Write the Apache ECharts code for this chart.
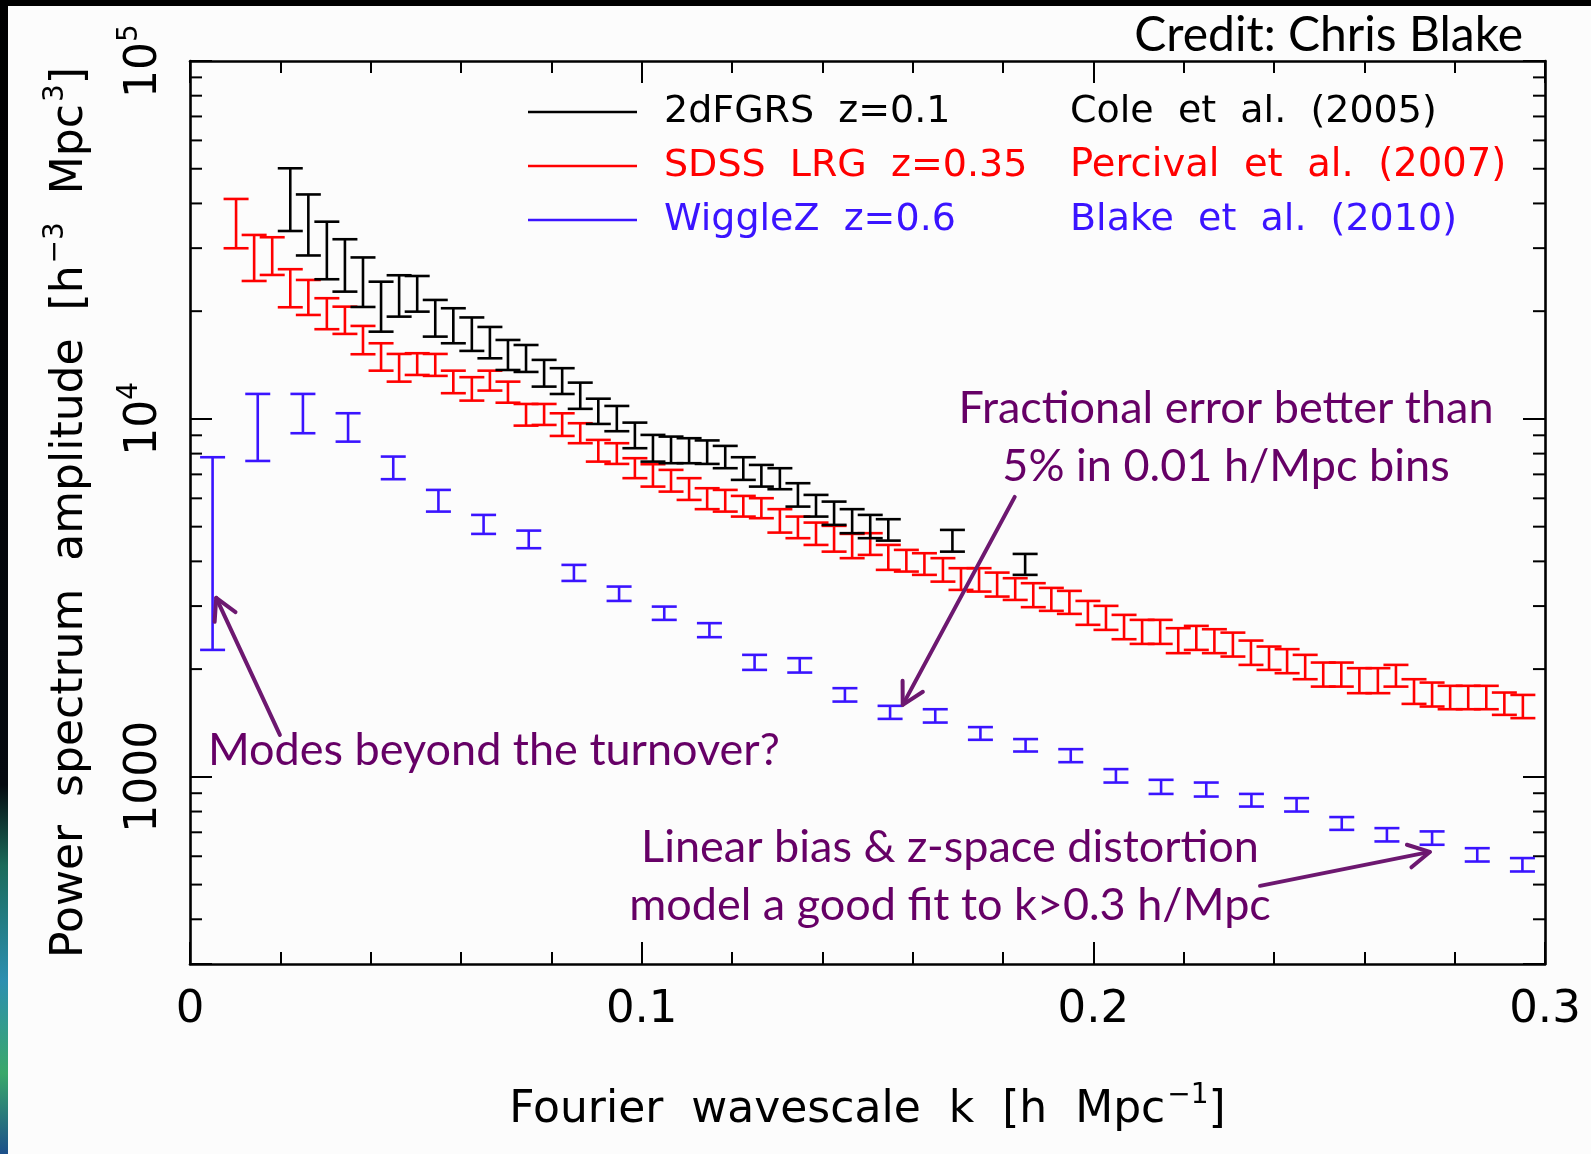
<!DOCTYPE html>
<html><head><meta charset="utf-8">
<script src="https://cdn.jsdelivr.net/npm/echarts@6/dist/echarts.min.js"></script>
<style>html,body{margin:0;padding:0;background:#fcfcfc}#c{width:1591px;height:1154px}</style>
</head><body><div id="c"></div><script>
// ---- data (k in h/Mpc, P in h^-3 Mpc^3; error bars as low/high) ----
const kRed = [0.0102,0.0142,0.0182,0.0222,0.0262,0.0303,0.0343,0.0383,0.0423,0.0463,0.0503,0.0543,0.0583,0.0624,0.0664,0.0704,0.0744,0.0784,0.0824,0.0864,0.0904,0.0945,0.0985,0.1025,0.1065,0.1105,0.1145,0.1185,0.1225,0.1265,0.1306,0.1346,0.1386,0.1426,0.1466,0.1506,0.1546,0.1586,0.1626,0.1667,0.1707,0.1747,0.1787,0.1827,0.1867,0.1907,0.1947,0.1988,0.2028,0.2068,0.2108,0.2148,0.2188,0.2228,0.2268,0.2309,0.2349,0.2389,0.2429,0.2469,0.2509,0.2549,0.2589,0.2630,0.2670,0.2710,0.2750,0.2790,0.2830,0.2870,0.2910,0.2951];
const redLo = [29980,24290,25250,20510,19520,17810,17280,15160,13640,12710,13270,13190,11800,11250,12000,11100,9578,9621,8964,8554,7598,7487,6831,6470,6265,5939,5596,5509,5335,5280,4813,4643,4446,4258,4083,4170,3787,3746,3667,3511,3329,3293,3189,3121,2979,2909,2853,2659,2574,2424,2352,2352,2216,2263,2216,2168,2055,1990,1948,1874,1787,1787,1713,1713,1787,1599,1572,1545,1545,1545,1490,1459];
const redHi = [41170,32660,32180,26200,24450,21740,20590,18190,16270,15190,15260,15190,13640,13080,13640,12710,11010,11010,10370,9727,8737,8554,7767,7472,7205,6831,6403,6334,6094,6005,5596,5335,5133,5026,4773,4795,4446,4306,4215,4083,3828,3828,3721,3589,3476,3372,3308,3101,3004,2835,2745,2745,2602,2641,2585,2529,2403,2312,2274,2192,2086,2086,2012,2012,2055,1874,1834,1796,1796,1796,1720,1694];

const kBlack = [0.0222,0.0262,0.0303,0.0343,0.0383,0.0423,0.0463,0.0503,0.0543,0.0583,0.0624,0.0664,0.0704,0.0744,0.0784,0.0824,0.0864,0.0904,0.0945,0.0985,0.1025,0.1065,0.1105,0.1145,0.1185,0.1225,0.1265,0.1306,0.1346,0.1386,0.1426,0.1466,0.1506,0.1546,0.1688,0.1849];
const blackLo = [33500,28620,24560,22680,20550,17530,19310,19940,16980,16270,15490,14770,13700,13530,12310,11740,10670,9683,9240,8283,7598,7521,7521,7487,7283,6756,6470,6362,5689,5335,5058,4795,4643,4571,4258,3667];
const blackHi = [50150,42380,35570,31770,28260,24180,25200,25080,21500,20380,19210,18070,16620,16090,14620,13860,12630,11390,10870,9765,9023,8925,8833,8708,8407,7816,7438,7283,6613,6134,5875,5596,5393,5246,4897,4196];

const kBlue = [0.005,0.015,0.025,0.035,0.045,0.055,0.065,0.075,0.085,0.095,0.105,0.115,0.125,0.135,0.145,0.155,0.165,0.175,0.185,0.195,0.205,0.215,0.225,0.235,0.245,0.255,0.265,0.275,0.285,0.295];
const blueLo = [2263,7631,9121,8641,6786,5509,4773,4353,3527,3101,2745,2456,1990,1956,1623,1452,1418,1269,1177,1099,964,896,881,826,800,711,660,646,580,544];
const blueHi = [7816,11745,11745,10373,7849,6334,5393,4875,3910,3401,2990,2688,2192,2146,1769,1579,1545,1377,1275,1195,1051,981,964,896,872,772,719,704,632,593];

const xTicks = [0, 0.1, 0.2, 0.3];
const yTickLabels = {1000: '1000', 10000: '10{s|4}', 100000: '10{s|5}'};
const yMinorTicks = [400,500,600,700,800,900,2000,3000,4000,5000,6000,7000,8000,9000,20000,30000,40000,50000,60000,70000,80000,90000];

const seriesNames = ['2dFGRS  z=0.1', 'SDSS  LRG  z=0.35', 'WiggleZ  z=0.6'];
const seriesRefs = ['Cole  et  al.  (2005)', 'Percival  et  al.  (2007)', 'Blake  et  al.  (2010)'];
// annotation arrows: [kTail, PTail, kHead, PHead]
const arrows = [[0.1826, 6055, 0.1578, 1589], [0.0199, 1310, 0.0058, 3162], [0.2369, 496, 0.2745, 617]];

// ---- styling ----
const C_BLACK = '#000000', C_RED = '#ff0000', C_BLUE = '#3a14ff', C_PURPLE = '#660066', C_ARROW = '#6d1870';
const PG = '"DejaVu Sans", sans-serif';
const CAL = 'Lato, "Open Sans", sans-serif';

function errorBarSeries(name, ks, lo, hi, color, half) {
  return {
    type: 'custom', name: name, clip: false,
    data: ks.map((k, i) => [k, lo[i], hi[i]]),
    encode: {x: 0, y: [1, 2]},
    renderItem: function (params, api) {
      const k = api.value(0);
      const a = api.coord([k, api.value(2)]);
      const b = api.coord([k, api.value(1)]);
      const st = {stroke: color, lineWidth: 2.6, fill: null};
      return {type: 'group', children: [
        {type: 'line', shape: {x1: a[0], y1: a[1], x2: b[0], y2: b[1]}, style: st},
        {type: 'line', shape: {x1: a[0] - half, y1: a[1], x2: a[0] + half, y2: a[1]}, style: st},
        {type: 'line', shape: {x1: b[0] - half, y1: b[1], x2: b[0] + half, y2: b[1]}, style: st}
      ]};
    }
  };
}

const axisLineStyle = {color: '#000', width: 2.6};
const tickStyle = {color: '#000', width: 2};
const subRich = {s: {fontSize: 28, verticalAlign: 'top', lineHeight: 28, padding: [0, 0, 0, 2]}};

const option = {
  animation: false,
  backgroundColor: '#fcfcfc',
  grid: {left: 190, right: 46, top: 61, bottom: 190, show: false},
  xAxis: [
    {type: 'value', position: 'bottom', min: 0, max: 0.3, interval: 0.1,
     axisLine: {show: true, onZero: false, lineStyle: axisLineStyle},
     axisTick: {show: true, inside: true, length: 22, lineStyle: tickStyle},
     minorTick: {show: true, splitNumber: 5, length: 12, lineStyle: tickStyle},
     splitLine: {show: false},
     axisLabel: {color: '#000', fontSize: 45, fontFamily: PG, margin: 24,
       formatter: v => { const t = xTicks.find(x => Math.abs(x - v) < 1e-9); return t === undefined ? '' : String(t); }},
     name: 'Fourier  wavescale  k  [h  Mpc{s|−1}]', nameLocation: 'middle', nameGap: 118,
     nameTextStyle: {color: '#000', fontSize: 44, fontFamily: PG, lineHeight: 58, rich: subRich}},
    {type: 'value', position: 'top', min: 0, max: 0.3, interval: 0.1,
     axisLine: {show: true, onZero: false, lineStyle: axisLineStyle},
     axisTick: {show: true, inside: true, length: 22, lineStyle: tickStyle},
     minorTick: {show: true, splitNumber: 5, length: 12, lineStyle: tickStyle},
     splitLine: {show: false}, axisLabel: {show: false}}
  ],
  yAxis: [
    {type: 'log', logBase: 10, position: 'left', min: 300, max: 100000,
     axisLine: {show: true, onZero: false, lineStyle: axisLineStyle},
     axisTick: {show: true, inside: true, length: 22, lineStyle: tickStyle},
     splitLine: {show: false},
     axisLabel: {color: '#000', fontSize: 44, fontFamily: PG, rotate: 90, margin: 16, lineHeight: 58,
       showMinLabel: true,
       formatter: v => { const r = Math.round(v); return yTickLabels[r] || ''; },
       rich: {s: {fontSize: 28, verticalAlign: 'top', lineHeight: 28}}},
     name: 'Power  spectrum  amplitude  [h{s|−3}  Mpc{s|3}]', nameLocation: 'middle', nameRotate: 90, nameGap: 90,
     nameTextStyle: {color: '#000', fontSize: 44, fontFamily: PG, lineHeight: 58, rich: subRich}},
    {type: 'log', logBase: 10, position: 'right', min: 300, max: 100000,
     axisLine: {show: true, onZero: false, lineStyle: axisLineStyle},
     axisTick: {show: true, inside: true, length: 22, lineStyle: tickStyle},
     splitLine: {show: false}, axisLabel: {show: false}}
  ],
  series: [
    {type: 'custom', name: 'yMinorTicks', clip: false, silent: true,
     data: yMinorTicks.map(v => [0, v]), encode: {x: 0, y: 1},
     renderItem: function (params, api) {
       const v = api.value(1);
       const l = api.coord([0, v]);
       const r = api.coord([0.3, v]);
       const st = {stroke: '#000', lineWidth: 2};
       return {type: 'group', children: [
         {type: 'line', shape: {x1: l[0], y1: l[1], x2: l[0] + 12, y2: l[1]}, style: st},
         {type: 'line', shape: {x1: r[0] - 12, y1: r[1], x2: r[0], y2: r[1]}, style: st}
       ]};
     }},
    errorBarSeries(seriesNames[2], kBlue, blueLo, blueHi, C_BLUE, 12.5),
    errorBarSeries(seriesNames[1], kRed, redLo, redHi, C_RED, 12.5),
    errorBarSeries(seriesNames[0], kBlack, blackLo, blackHi, C_BLACK, 12.5),
    {type: 'custom', name: 'arrows', clip: false, silent: true,
     data: arrows, encode: {x: [0, 2], y: [1, 3]},
     renderItem: function (params, api) {
       const a = api.coord([api.value(0), api.value(1)]);
       const b = api.coord([api.value(2), api.value(3)]);
       const ang = Math.atan2(b[1] - a[1], b[0] - a[0]);
       const L = 24, w = 0.5;
       const p1 = [b[0] - L * Math.cos(ang - w), b[1] - L * Math.sin(ang - w)];
       const p2 = [b[0] - L * Math.cos(ang + w), b[1] - L * Math.sin(ang + w)];
       const st = {stroke: C_ARROW, lineWidth: 4, fill: null, lineCap: 'round', lineJoin: 'round'};
       return {type: 'group', children: [
         {type: 'line', shape: {x1: a[0], y1: a[1], x2: b[0], y2: b[1]}, style: st},
         {type: 'polyline', shape: {points: [p1, b, p2]}, style: st}
       ]};
     }}
  ],
  graphic: [
    {type: 'rect', left: 0, top: 0, shape: {width: 1591, height: 6}, style: {fill: '#000'}, z: 100},
    {type: 'rect', left: 0, top: 0, shape: {width: 8, height: 1154}, z: 100,
     style: {fill: new echarts.graphic.LinearGradient(0, 0, 0, 1, [
       {offset: 0, color: '#000'}, {offset: 0.68, color: '#050a10'}, {offset: 0.75, color: '#1b6b5a'},
       {offset: 0.85, color: '#2c8fb0'}, {offset: 0.93, color: '#3aa86a'}, {offset: 1, color: '#1c4f8a'}])}},
    // legend
    {type: 'line', shape: {x1: 528, y1: 112, x2: 637, y2: 112}, style: {stroke: C_BLACK, lineWidth: 2.6}},
    {type: 'line', shape: {x1: 528, y1: 166, x2: 637, y2: 166}, style: {stroke: C_RED, lineWidth: 2.6}},
    {type: 'line', shape: {x1: 528, y1: 220, x2: 637, y2: 220}, style: {stroke: C_BLUE, lineWidth: 2.6}},
    {type: 'text', x: 664, y: 112, style: {text: seriesNames[0], fontSize: 38, fontFamily: PG, fill: C_BLACK, align: 'left', verticalAlign: 'middle'}},
    {type: 'text', x: 664, y: 166, style: {text: seriesNames[1], fontSize: 38, fontFamily: PG, fill: C_RED, align: 'left', verticalAlign: 'middle'}},
    {type: 'text', x: 664, y: 220, style: {text: seriesNames[2], fontSize: 38, fontFamily: PG, fill: C_BLUE, align: 'left', verticalAlign: 'middle'}},
    {type: 'text', x: 1070, y: 112, style: {text: seriesRefs[0], fontSize: 38, fontFamily: PG, fill: C_BLACK, align: 'left', verticalAlign: 'middle'}},
    {type: 'text', x: 1070, y: 166, style: {text: seriesRefs[1], fontSize: 38.5, fontFamily: PG, fill: C_RED, align: 'left', verticalAlign: 'middle'}},
    {type: 'text', x: 1070, y: 220, style: {text: seriesRefs[2], fontSize: 38, fontFamily: PG, fill: C_BLUE, align: 'left', verticalAlign: 'middle'}},
    // credit + annotations
    {type: 'text', x: 1523, y: 36, style: {text: 'Credit: Chris Blake', fontSize: 48, fontFamily: CAL, fill: '#000', align: 'right', verticalAlign: 'middle'}, z: 101},
    {type: 'text', x: 1226, y: 408, style: {text: 'Fractional error better than', fontSize: 45, fontFamily: CAL, fill: C_PURPLE, align: 'center', verticalAlign: 'middle'}},
    {type: 'text', x: 1226, y: 466, style: {text: '5% in 0.01 h/Mpc bins', fontSize: 45, fontFamily: CAL, fill: C_PURPLE, align: 'center', verticalAlign: 'middle'}},
    {type: 'text', x: 208, y: 750, style: {text: 'Modes beyond the turnover?', fontSize: 45, fontFamily: CAL, fill: C_PURPLE, align: 'left', verticalAlign: 'middle'}},
    {type: 'text', x: 950, y: 847, style: {text: 'Linear bias & z-space distortion', fontSize: 45, fontFamily: CAL, fill: C_PURPLE, align: 'center', verticalAlign: 'middle'}},
    {type: 'text', x: 950, y: 905, style: {text: 'model a good fit to k>0.3 h/Mpc', fontSize: 45, fontFamily: CAL, fill: C_PURPLE, align: 'center', verticalAlign: 'middle'}}
  ]
};
const chart = echarts.init(document.getElementById('c'), null, {renderer: 'canvas'});
chart.setOption(option);
</script></body></html>
